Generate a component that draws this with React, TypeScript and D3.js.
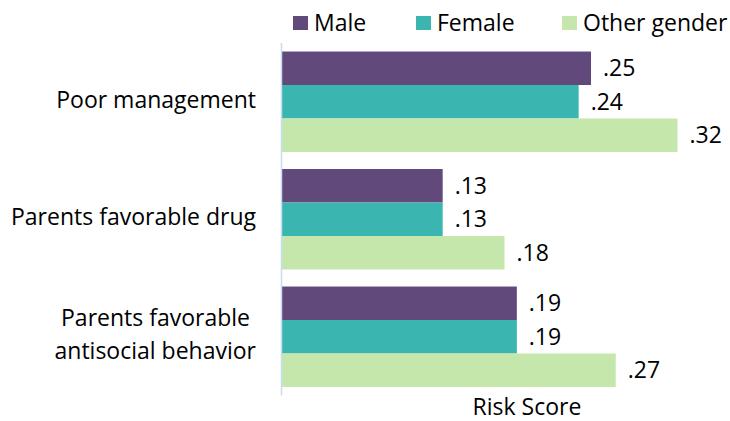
import React from "react";
import * as d3 from "d3";

const categories: string[][] = [
  ["Poor management"],
  ["Parents favorable drug"],
  ["Parents favorable ", "antisocial behavior"],
];
const seriesNames = ["Male", "Female", "Other gender"];
const male = [0.25, 0.13, 0.19];
const female = [0.24, 0.13, 0.19];
const other = [0.32, 0.18, 0.27];
const colors = ["#614A7B", "#3AB5B0", "#C6E7AC"];
const axisTitle = "Risk Score";

const W = 730;
const H = 421;
const FONT = "'Open Sans', 'Noto Sans', sans-serif";
const FS = 23;

export default function App() {
  const series = [male, female, other];
  const y = d3
    .scaleBand<number>()
    .domain(categories.map((_, i) => i))
    .range([43, 395.5])
    .paddingInner(0.145)
    .paddingOuter(0.0725);
  const inner = d3
    .scaleBand<number>()
    .domain(seriesNames.map((_, i) => i))
    .range([0, y.bandwidth()]);
  const x = d3.scaleLinear().domain([0, 0.35]).range([282, 282 + 1236 * 0.35]);
  const fmt = (v: number) => d3.format(".2f")(v).replace(/^0/, "");

  const legendX = [293, 416, 562];

  return (
    <svg
      width={W}
      height={H}
      style={{ position: "absolute", left: 0, top: 0, fontFamily: FONT }}
    >
      <rect width={W} height={H} fill="#fff" />
      {/* legend */}
      {seriesNames.map((n, i) => (
        <g key={n}>
          <rect x={legendX[i]} y={16} width={15} height={14} fill={colors[i]} />
          <text x={legendX[i] + 21} y={31} fontSize={FS} fill="#000">
            {n}
          </text>
        </g>
      ))}
      {/* bars */}
      {categories.map((_, ci) =>
        series.map((s, si) => {
          const y0 = (y(ci) ?? 0) + (inner(si) ?? 0);
          const h = inner.bandwidth();
          return (
            <g key={`${ci}-${si}`}>
              <rect
                x={x(0)}
                y={y0}
                width={x(s[ci]) - x(0)}
                height={h}
                fill={colors[si]}
              />
              <text
                x={x(s[ci]) + 12}
                y={y0 + h / 2 + 2}
                dominantBaseline="middle"
                fontSize={FS}
                fill="#000"
              >
                {fmt(s[ci])}
              </text>
            </g>
          );
        })
      )}
      {/* axis line */}
      <line x1={281.5} x2={281.5} y1={43} y2={395.5} stroke="#C5DCF3" strokeWidth={1.5} />
      {/* category labels */}
      {categories.map((lines, ci) => {
        const cy = (y(ci) ?? 0) + y.bandwidth() / 2;
        const lh = 33;
        return (
          <text
            key={ci}
            textAnchor="end"
            fontSize={FS}
            fill="#000"
            style={{ whiteSpace: "pre" }}
          >
            {lines.map((l, li) => (
              <tspan
                key={li}
                x={256}
                y={cy + (li - (lines.length - 1) / 2) * lh}
                dominantBaseline="middle"
              >
                {l}
              </tspan>
            ))}
          </text>
        );
      })}
      <text x={527} y={415} textAnchor="middle" fontSize={FS} fill="#000">
        {axisTitle}
      </text>
    </svg>
  );
}
